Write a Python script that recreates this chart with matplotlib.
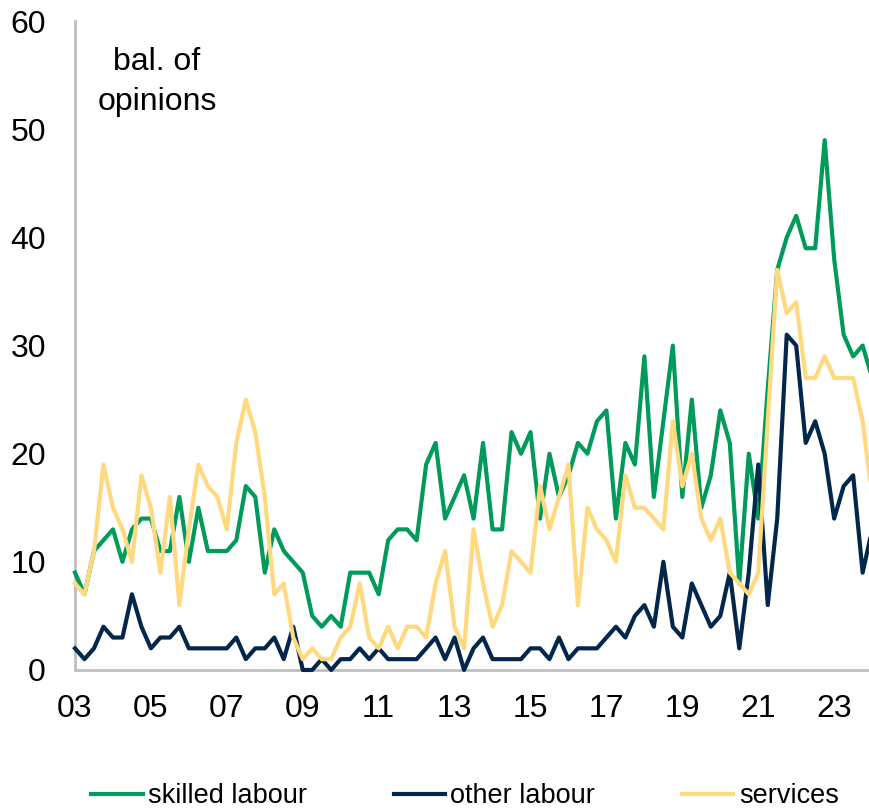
#!/usr/bin/env python3

import numpy as np
import matplotlib
matplotlib.use("Agg")
import matplotlib.pyplot as plt


# balances of opinion, quarterly from 2003 Q1
skilled = [9, 7, 11, 12, 13, 10, 13, 14, 14, 11, 11, 16, 10, 15,
           11, 11, 11, 12, 17, 16, 9, 13, 11, 10, 9, 5, 4, 5,
           4, 9, 9, 9, 7, 12, 13, 13, 12, 19, 21, 14, 16, 18,
           14, 21, 13, 13, 22, 20, 22, 14, 20, 16, 18, 21, 20, 23,
           24, 14, 21, 19, 29, 16, 23, 30, 16, 25, 15, 18, 24, 21,
           8, 20, 14, 26, 37, 40, 42, 39, 39, 49, 38, 31, 29, 30, 27]
other = [2, 1, 2, 4, 3, 3, 7, 4, 2, 3, 3, 4, 2, 2,
         2, 2, 2, 3, 1, 2, 2, 3, 1, 4, 0, 0, 1, 0,
         1, 1, 2, 1, 2, 1, 1, 1, 1, 2, 3, 1, 3, 0,
         2, 3, 1, 1, 1, 1, 2, 2, 1, 3, 1, 2, 2, 2,
         3, 4, 3, 5, 6, 4, 10, 4, 3, 8, 6, 4, 5, 9,
         2, 9, 19, 6, 14, 31, 30, 21, 23, 20, 14, 17, 18, 9, 13]
services = [8, 7, 11, 19, 15, 13, 10, 18, 15, 9, 16, 6, 13, 19,
            17, 16, 13, 21, 25, 22, 16, 7, 8, 3, 1, 2, 1, 1,
            3, 4, 8, 3, 2, 4, 2, 4, 4, 3, 8, 11, 4, 2,
            13, 8, 4, 6, 11, 10, 9, 17, 13, 16, 19, 6, 15, 13,
            12, 10, 18, 15, 15, 14, 13, 23, 17, 20, 14, 12, 14, 9,
            8, 7, 9, 23, 37, 33, 34, 27, 27, 29, 27, 27, 27, 23, 16]
year_labels = ["03", "05", "07", "09", "11", "13", "15", "17", "19", "21", "23"]


def main():
    plt.rcParams["font.family"] = ["Liberation Sans", "DejaVu Sans"]
    fig = plt.figure(figsize=(8.69, 8.11), dpi=100)
    ax = fig.add_axes([0.0863, 0.1739, 0.9137, 0.8])

    x = np.arange(len(skilled))
    ax.plot(x, skilled, color="#009A5A", lw=3, label="skilled labour", clip_on=False, zorder=3)
    ax.plot(x, other, color="#03274B", lw=3, label="other labour", clip_on=False, zorder=3)
    ax.plot(x, services, color="#FFD97F", lw=3, label="services", clip_on=False, zorder=3)

    ax.set_xlim(0, 83.67)
    ax.set_ylim(0, 60)
    ax.set_yticks(range(0, 61, 10))
    ax.set_xticks(np.arange(len(year_labels)) * 8)
    ax.set_xticklabels(year_labels)
    ax.tick_params(length=0, labelsize=23)
    ax.tick_params(axis="x", pad=17)
    ax.tick_params(axis="y", pad=21)

    for s in ["top", "right"]:
        ax.spines[s].set_visible(False)
    for s in ["left", "bottom"]:
        ax.spines[s].set_color("#BFBFBF")
        ax.spines[s].set_linewidth(2)

    fig.text(0.1807, 0.899, "bal. of\nopinions", fontsize=23, ha="center", va="center",
             linespacing=1.4)

    fig.legend(loc="center", bbox_to_anchor=(0.535, 0.018), ncol=3, frameon=False,
               fontsize=19.5, handlelength=1.9, handletextpad=0.2, columnspacing=3.2)

    fig.savefig("out.png", dpi=100)


if __name__ == "__main__":
    main()
